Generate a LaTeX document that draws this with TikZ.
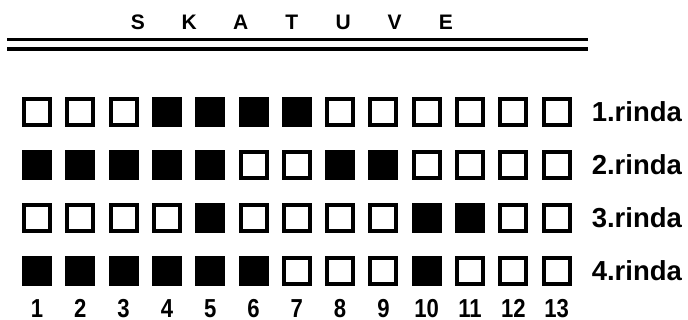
\documentclass[tikz,border=0pt]{standalone}
\usepackage{fontspec}
\setmainfont{Liberation Sans}
\usetikzlibrary{positioning}
\begin{document}
\begin{tikzpicture}[x=1pt, y=-1pt, line join=miter,
		cell0/.style={draw=black, fill=white, line width=4pt, minimum size=26pt, inner sep=0pt},
		cell1/.style={draw=black, fill=black, line width=4pt, minimum size=26pt, inner sep=0pt},
		rowlabel/.style={inner sep=0pt, font=\fontsize{27.5}{30}\selectfont\bfseries},
		colnum/.style={inner sep=0pt, text height=18.7pt, text depth=0pt, font=\fontsize{26}{30}\selectfont\bfseries},
		titleletter/.style={inner sep=0pt, anchor=base, font=\fontsize{21}{24}\selectfont\bfseries}]
	\useasboundingbox (0,0) rectangle (688,320);
	% title
	\foreach \ch [count=\k] in {S,K,A,T,U,V,E} {
		\node[titleletter] (t-\k) at ({138+51.3*(\k-1)},30) {\ch};
	}
	\coordinate (la) at (7,39.5);
	\coordinate (lb) at (588,39.5);
	\coordinate (lc) at (7,49);
	\coordinate (ld) at (588,49);
	\draw[line width=3.6pt] (la) -- (lb);
	\draw[line width=3.2pt] (lc) -- (ld);
	% rows of squares
	\foreach \r/\pat in {1/{0,0,0,1,1,1,1,0,0,0,0,0,0},
			2/{1,1,1,1,1,0,0,1,1,0,0,0,0},
			3/{0,0,0,0,1,0,0,0,0,1,1,0,0},
			4/{1,1,1,1,1,1,0,0,0,1,0,0,0}} {
		\foreach \v [count=\i] in \pat {
			\node[cell\v] (c-\r-\i) at ({37+43.3*(\i-1)},{112+53*(\r-1)}) {};
		}
		\node[rowlabel, right=20pt of c-\r-13] (l-\r) {\r.rinda};
	}
	% column numbers
	\foreach \i in {1,...,13} {
		\node[colnum, below=13pt of c-4-\i] (n-\i) {\scalebox{0.85}[1]{\i}};
	}
\end{tikzpicture}
\end{document}
